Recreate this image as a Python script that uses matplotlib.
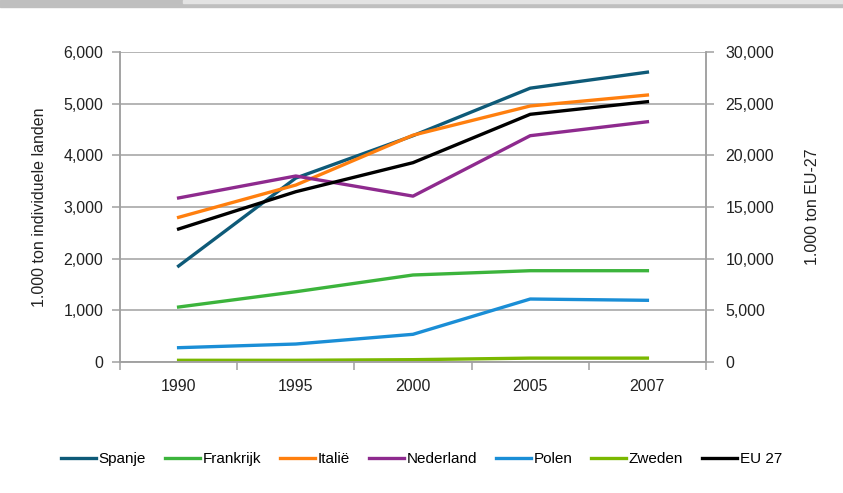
import numpy as np
import matplotlib.pyplot as plt
from matplotlib.patches import Rectangle
from matplotlib.ticker import FuncFormatter, FixedLocator

years = ['1990', '1995', '2000', '2005', '2007']
spanje = [1858, 3560, 4380, 5300, 5610]
frankrijk = [1064, 1360, 1684, 1767, 1767]
italie = [2800, 3425, 4390, 4955, 5167]
nederland = [3175, 3600, 3210, 4380, 4650]
polen = [277, 348, 536, 1219, 1194]
zweden = [33, 33, 45, 75, 75]
eu27 = [12870, 16480, 19290, 23970, 25190]

plt.rcParams['font.family'] = ['Liberation Sans', 'DejaVu Sans']

fig = plt.figure(figsize=(8.43, 4.93), dpi=100)
ax = fig.add_axes([120/843, 1-362/493, 586/843, 310/493])
ax2 = ax.twinx()

x = np.arange(len(years))
lw = 2.4
l1, = ax.plot(x, spanje, color='#0e5a78', lw=lw, label='Spanje')
l2, = ax.plot(x, frankrijk, color='#3cb43c', lw=lw, label='Frankrijk')
l3, = ax.plot(x, italie, color='#ff7f0e', lw=lw, label='Italië')
l4, = ax.plot(x, nederland, color='#8e2a8e', lw=lw, label='Nederland')
l5, = ax.plot(x, polen, color='#1a8ed6', lw=lw, label='Polen')
l6, = ax.plot(x, zweden, color='#7ab800', lw=lw, label='Zweden')
l7, = ax2.plot(x, eu27, color='black', lw=lw, label='EU 27')

grey = '#a0a0a0'
ax.set_xlim(-0.5, len(years) - 0.5)
ax.set_ylim(0, 6000)
ax2.set_ylim(0, 30000)
ax.set_yticks(np.arange(0, 6001, 1000))
ax2.set_yticks(np.arange(0, 30001, 5000))
fmt = FuncFormatter(lambda v, p: f'{int(v):,}')
ax.yaxis.set_major_formatter(fmt)
ax2.yaxis.set_major_formatter(fmt)
ax.grid(axis='y', color=grey, lw=1.1)
ax.set_axisbelow(True)

ax.set_xticks(x)
ax.set_xticklabels(years)
ax.xaxis.set_minor_locator(FixedLocator(np.arange(-0.5, len(years), 1)))
ax.tick_params(axis='x', which='major', length=0, pad=12, labelsize=11.5, colors='#222222')
ax.tick_params(axis='x', which='minor', length=6, color=grey, width=1.1)
ax.tick_params(axis='y', length=6, color=grey, width=1.1, labelsize=11.5, labelcolor='#222222', pad=6)
ax2.tick_params(axis='y', length=6, color=grey, width=1.1, labelsize=11.5, labelcolor='#222222', pad=8)

for a in (ax, ax2):
    a.spines['top'].set_visible(False)
    for s in ('left', 'right', 'bottom'):
        a.spines[s].set_color(grey)
        a.spines[s].set_linewidth(1.1)

ax.set_ylabel('1.000 ton individuele landen', fontsize=11.5, color='#222222', labelpad=12)
ax2.set_ylabel('1.000 ton EU-27', fontsize=11.5, color='#222222', labelpad=22)

fig.legend(handles=[l1, l2, l3, l4, l5, l6, l7], loc='center', bbox_to_anchor=(0.5, 1-459/493),
           ncol=7, frameon=False, handlelength=2.3, handletextpad=0.15, columnspacing=1.25,
           prop={'size': 11})

# cut-off header bar at top of the page
fig.patches.append(Rectangle((0, 1-7/493), 1, 7/493, transform=fig.transFigure, color='#bfbfbf', zorder=0))
fig.patches.append(Rectangle((183/843, 1-3/493), 1, 3/493, transform=fig.transFigure, color='#e3e3e3', zorder=1))

fig.savefig('out.png', dpi=100)
